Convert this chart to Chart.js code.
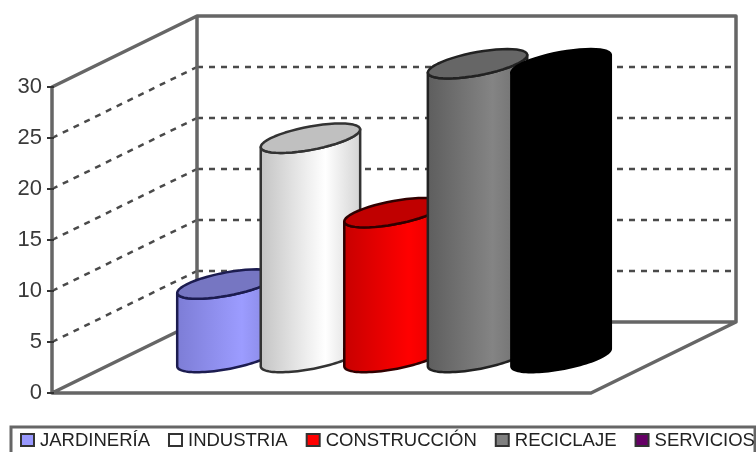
<!DOCTYPE html>
<html>
<head>
<meta charset="utf-8">
<title>Sectores</title>
<style>
  html, body { margin: 0; padding: 0; background: #fff; overflow: hidden; }
  canvas { display: block; }
</style>
<script src="https://cdn.jsdelivr.net/npm/chart.js@4"></script>
</head>
<body>
<canvas id="myChart" width="756" height="452"></canvas>
<script>
const seriesNames = ['JARDINERÍA', 'INDUSTRIA', 'CONSTRUCCIÓN', 'RECICLAJE', 'SERVICIOS'];
const seriesValues = [7.2, 21.5, 14.2, 28.8, 28.8];
const yTicks = [0, 5, 10, 15, 20, 25, 30];

// [left, highlight, right] of the side shading, then the lid and the outline
const sideColors = [
  ['#7d7dd6', '#9c9cff', '#8484dc'],
  ['#c4c4c4', '#ffffff', '#d4d4d4'],
  ['#c80000', '#ff0000', '#e00000'],
  ['#5e5e5e', '#848484', '#6c6c6c'],
  ['#000000', '#000000', '#000000']
];
const lidColors = ['#7676c2', '#c0c0c0', '#c00000', '#666666', '#000000'];
const edgeColors = ['#1c1c50', '#333333', '#300000', '#222222', '#000000'];
const legendColors = ['#9999ff', '#ffffff', '#ff0000', '#808080', '#660066'];

// offset from the front plane to the back wall
const wallDx = 145;
const wallDy = 71;
const axisColor = '#666666';
const gridColor = '#4a4a4a';

function line(ctx, x1, y1, x2, y2) {
  ctx.beginPath();
  ctx.moveTo(x1, y1);
  ctx.lineTo(x2, y2);
  ctx.stroke();
}

const walls = {
  id: 'walls',
  beforeDatasetsDraw(chart) {
    const { ctx, chartArea: area, scales } = chart;
    ctx.save();

    // dashed grid over the side and back walls
    ctx.strokeStyle = gridColor;
    ctx.lineWidth = 2.5;
    ctx.setLineDash([6, 6]);
    yTicks.slice(1, -1).forEach(v => {
      const y = scales.y.getPixelForValue(v);
      line(ctx, area.left, y, area.left + wallDx, y - wallDy);
      line(ctx, area.left + wallDx, y - wallDy, area.right + wallDx, y - wallDy);
    });
    ctx.setLineDash([]);

    // box edges
    ctx.strokeStyle = axisColor;
    ctx.lineWidth = 3.5;
    ctx.lineJoin = 'round';
    ctx.beginPath();
    ctx.moveTo(area.left, area.bottom);
    ctx.lineTo(area.left, area.top);
    ctx.lineTo(area.left + wallDx, area.top - wallDy);
    ctx.lineTo(area.right + wallDx, area.top - wallDy);
    ctx.lineTo(area.right + wallDx, area.bottom - wallDy);
    ctx.lineTo(area.right, area.bottom);
    ctx.lineTo(area.left, area.bottom);
    ctx.lineTo(area.left + wallDx, area.bottom - wallDy);
    ctx.lineTo(area.right + wallDx, area.bottom - wallDy);
    ctx.moveTo(area.left + wallDx, area.top - wallDy);
    ctx.lineTo(area.left + wallDx, area.bottom - wallDy);
    ctx.stroke();

    // small ticks on the value axis
    ctx.strokeStyle = '#333333';
    ctx.lineWidth = 2;
    yTicks.forEach(v => {
      const y = scales.y.getPixelForValue(v);
      line(ctx, area.left - 5, y, area.left + 2, y);
    });
    ctx.restore();
  },
  // the bars are painted as cylinders below
  beforeDatasetDraw() {
    return false;
  }
};

// point on a round cross-section lying in the floor plane
function rimPoint(cx, cy, r, t) {
  const depthX = r * 0.75;
  const depthY = r * 0.37;
  return [cx + r * Math.cos(t) + depthX * Math.sin(t), cy - depthY * Math.sin(t)];
}

function tracePath(ctx, cx, cy, r, from, to, first) {
  const steps = 48;
  for (let s = 0; s <= steps; s++) {
    const p = rimPoint(cx, cy, r, from + (to - from) * s / steps);
    if (s === 0 && first) ctx.moveTo(p[0], p[1]);
    else ctx.lineTo(p[0], p[1]);
  }
}

const cylinders = {
  id: 'cylinders',
  afterDatasetsDraw(chart) {
    const { ctx } = chart;
    const t0 = Math.atan2(0.75, 1);
    ctx.save();
    // left to right so that each one overlaps the previous
    chart.data.datasets.forEach((ds, i) => {
      const bar = chart.getDatasetMeta(i).data[0];
      const r = bar.width / 2 - 2;
      const cx = bar.x + wallDx / 2;
      const topY = bar.y - wallDy / 2;
      const baseY = bar.base - wallDy / 2;
      const halfW = r * 1.25;

      const grad = ctx.createLinearGradient(cx - halfW, 0, cx + halfW, 0);
      grad.addColorStop(0, sideColors[i][0]);
      grad.addColorStop(0.65, sideColors[i][1]);
      grad.addColorStop(1, sideColors[i][2]);

      ctx.beginPath();
      tracePath(ctx, cx, baseY, r, t0 + Math.PI, t0 + 2 * Math.PI, true);
      tracePath(ctx, cx, topY, r, t0 + 2 * Math.PI, t0 + Math.PI, false);
      ctx.closePath();
      ctx.fillStyle = grad;
      ctx.strokeStyle = edgeColors[i];
      ctx.lineWidth = 2.5;
      ctx.lineJoin = 'round';
      ctx.fill();
      ctx.stroke();

      ctx.beginPath();
      tracePath(ctx, cx, topY, r, 0, 2 * Math.PI, true);
      ctx.closePath();
      ctx.fillStyle = lidColors[i];
      ctx.fill();
      ctx.stroke();
    });
    ctx.restore();
  }
};

// boxed legend running along the bottom edge
const legendRow = {
  id: 'legendRow',
  afterDraw(chart) {
    const { ctx } = chart;
    ctx.save();
    ctx.strokeStyle = axisColor;
    ctx.lineWidth = 3;
    ctx.strokeRect(11, 427, 744, 40);

    ctx.font = '18.5px "Liberation Sans", Arial, sans-serif';
    ctx.textBaseline = 'alphabetic';
    let x = 21;
    seriesNames.forEach((name, i) => {
      ctx.fillStyle = legendColors[i];
      ctx.fillRect(x, 434, 13, 12);
      ctx.strokeStyle = '#333333';
      ctx.lineWidth = 2;
      ctx.strokeRect(x, 434, 13, 12);
      ctx.fillStyle = '#222222';
      ctx.fillText(name, x + 19, 446);
      x += 19 + ctx.measureText(name).width + 19;
    });
    ctx.restore();
  }
};

const ctx = document.getElementById('myChart').getContext('2d');

window.myChart = new Chart(ctx, {
  type: 'bar',
  data: {
    labels: [''],
    datasets: seriesNames.map((name, i) => ({
      label: name,
      data: [seriesValues[i]],
      backgroundColor: legendColors[i]
    }))
  },
  options: {
    responsive: false,
    animation: false,
    layout: { padding: { left: 0, top: 87, right: 165, bottom: 59 } },
    datasets: { bar: { categoryPercentage: 0.775, barPercentage: 1 } },
    plugins: {
      legend: { display: false },
      tooltip: { enabled: false }
    },
    scales: {
      x: { display: false },
      y: {
        min: 0,
        max: 30,
        afterBuildTicks: axis => { axis.ticks = yTicks.map(v => ({ value: v })); },
        afterFit: axis => { axis.width = 52; },
        border: { display: false },
        grid: { display: false },
        ticks: {
          color: '#3a3a3a',
          padding: 2,
          font: { family: '"Liberation Sans", Arial, sans-serif', size: 22 }
        }
      }
    }
  },
  plugins: [walls, cylinders, legendRow]
});
</script>
</body>
</html>
